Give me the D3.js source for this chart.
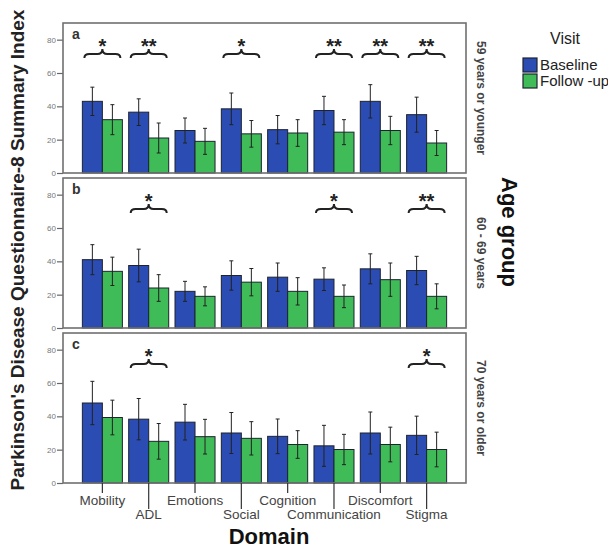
<!DOCTYPE html>
<html>
<head>
<meta charset="utf-8">
<script src="https://cdn.jsdelivr.net/npm/d3@7"></script>
<style>
  body { margin: 0; background: #fff; }
  text { font-family: "Liberation Sans", Arial, sans-serif; }
</style>
</head>
<body>
<script>
// domains on the x axis
var domains = ['Mobility', 'ADL', 'Emotions', 'Social', 'Cognition', 'Communication', 'Discomfort', 'Stigma']
var visits = ['Baseline', 'Follow -up']
var ageGroups = ['59 years or younger', '60 - 69 years', '70 years or older']
var panelLetters = ['a', 'b', 'c']
var yTicks = [0, 20, 40, 60, 80]

// panel a: 59 years or younger
var baseA = [43, 36.5, 25.5, 38.5, 26, 37.5, 43, 35]
var baseErrA = [8.5, 8, 7.5, 9.5, 8.5, 8.5, 10, 10.5]
var followA = [32, 21, 19, 23.5, 24, 24.5, 25.5, 18]
var followErrA = [9, 9, 7.8, 8, 8, 7.5, 8.5, 7.5]
var sigA = ['*', '**', '', '*', '', '**', '**', '**']

// panel b: 60 - 69
var baseB = [41, 37.5, 22, 31.5, 30.5, 29.3, 35.5, 34.5]
var baseErrB = [9, 9.8, 6, 8.8, 8.5, 6.8, 9, 8.5]
var followB = [34, 24, 19, 27.5, 22, 19, 29, 19]
var followErrB = [8.5, 8, 5.7, 8.2, 8.2, 6.8, 10, 7.5]
var sigB = ['', '*', '', '', '', '*', '', '**']

// panel c: 70 or older
var baseC = [48, 38.3, 36.5, 30, 28, 22.3, 30, 28.6]
var baseErrC = [13, 12.4, 10.7, 12.3, 10.4, 12.3, 12.6, 11.5]
var followC = [39.3, 25, 27.8, 26.8, 23.1, 20.1, 23.1, 20.1]
var followErrC = [10.4, 10.7, 10.4, 10, 8.3, 9.1, 10.4, 10.4]
var sigC = ['', '*', '', '', '', '', '', '*']

var panels = [
  { base: baseA, baseErr: baseErrA, follow: followA, followErr: followErrA, sig: sigA },
  { base: baseB, baseErr: baseErrB, follow: followB, followErr: followErrB, sig: sigB },
  { base: baseC, baseErr: baseErrC, follow: followC, followErr: followErrC, sig: sigC }
]

var colors = { 'Baseline': '#2b4cb2', 'Follow -up': '#3fbb58' }

var width = 608, height = 549
var left = 63, right = 466, top0 = 23, panelH = 150, panelStep = 155

var svg = d3.select('body').append('svg')
  .attr('width', width)
  .attr('height', height)

var x = d3.scaleBand().domain(domains).range([left, right])
  .paddingInner(0.136).paddingOuter(0.418)
var xv = d3.scaleBand().domain(visits).range([0, x.bandwidth()])

function brace(x0, x1, y) {
  var xm = (x0 + x1) / 2
  return 'M' + x0 + ',' + (y + 4) +
    ' Q' + x0 + ',' + y + ' ' + (x0 + 5) + ',' + y +
    ' L' + (xm - 5) + ',' + y +
    ' Q' + xm + ',' + y + ' ' + xm + ',' + (y - 5) +
    ' Q' + xm + ',' + y + ' ' + (xm + 5) + ',' + y +
    ' L' + (x1 - 5) + ',' + y +
    ' Q' + x1 + ',' + y + ' ' + x1 + ',' + (y + 4)
}

panels.forEach(function(p, pi) {
  var top = top0 + pi * panelStep
  var y = d3.scaleLinear().domain([0, 90]).range([top + panelH, top])
  var g = svg.append('g')

  // y axis
  var ax = g.append('g').attr('transform', 'translate(' + left + ',0)')
    .call(d3.axisLeft(y).tickValues(yTicks).tickSize(6).tickPadding(1))
  ax.select('.domain').remove()
  ax.selectAll('line').attr('stroke', '#666').attr('stroke-width', 1.2)
  ax.selectAll('text').attr('fill', '#777').style('font-size', '8px')

  var rows = domains.map(function(d, i) {
    return [
      { dom: d, visit: 'Baseline', v: p.base[i], e: p.baseErr[i] },
      { dom: d, visit: 'Follow -up', v: p.follow[i], e: p.followErr[i] }
    ]
  })
  var flat = [].concat.apply([], rows)

  g.selectAll('rect.bar').data(flat).enter().append('rect')
    .attr('class', 'bar')
    .attr('x', function(d) { return x(d.dom) + xv(d.visit) })
    .attr('y', function(d) { return y(d.v) })
    .attr('width', xv.bandwidth())
    .attr('height', function(d) { return y(0) - y(d.v) })
    .attr('fill', function(d) { return colors[d.visit] })
    .attr('stroke', '#1d2330')
    .attr('stroke-width', 1)

  // error bars
  var eb = g.selectAll('g.err').data(flat).enter().append('g')
    .attr('class', 'err')
    .attr('stroke', '#222').attr('stroke-width', 1)
  eb.append('line')
    .attr('x1', function(d) { return x(d.dom) + xv(d.visit) + xv.bandwidth() / 2 })
    .attr('x2', function(d) { return x(d.dom) + xv(d.visit) + xv.bandwidth() / 2 })
    .attr('y1', function(d) { return y(d.v - d.e) })
    .attr('y2', function(d) { return y(d.v + d.e) })
  eb.append('line')
    .attr('x1', function(d) { return x(d.dom) + xv(d.visit) + xv.bandwidth() / 2 - 2 })
    .attr('x2', function(d) { return x(d.dom) + xv(d.visit) + xv.bandwidth() / 2 + 2 })
    .attr('y1', function(d) { return y(d.v + d.e) })
    .attr('y2', function(d) { return y(d.v + d.e) })
  eb.append('line')
    .attr('x1', function(d) { return x(d.dom) + xv(d.visit) + xv.bandwidth() / 2 - 2 })
    .attr('x2', function(d) { return x(d.dom) + xv(d.visit) + xv.bandwidth() / 2 + 2 })
    .attr('y1', function(d) { return y(d.v - d.e) })
    .attr('y2', function(d) { return y(d.v - d.e) })

  // significance braces
  var sigData = domains.map(function(d, i) { return { dom: d, s: p.sig[i] } })
    .filter(function(d) { return d.s !== '' })
  g.selectAll('path.brace').data(sigData).enter().append('path')
    .attr('class', 'brace')
    .attr('d', function(d) { return brace(x(d.dom) + 2, x(d.dom) + x.bandwidth() - 2, top + 31) })
    .attr('fill', 'none').attr('stroke', '#222').attr('stroke-width', 2)
  g.selectAll('text.star').data(sigData).enter().append('text')
    .attr('class', 'star')
    .attr('x', function(d) { return x(d.dom) + x.bandwidth() / 2 })
    .attr('y', top + 30)
    .attr('text-anchor', 'middle')
    .style('font-size', '20px').style('font-weight', 'bold')
    .attr('fill', '#222')
    .text(function(d) { return d.s })

  // frame
  g.append('rect')
    .attr('x', left).attr('y', top)
    .attr('width', right - left).attr('height', panelH)
    .attr('fill', 'none').attr('stroke', '#707070').attr('stroke-width', 1.6)

  g.append('text')
    .attr('x', 72).attr('y', top + 16)
    .style('font-size', '14px').style('font-weight', 'bold')
    .attr('fill', '#333')
    .text(panelLetters[pi])

  // age group label on the right
  g.append('text')
    .attr('transform', 'translate(477,' + (top + panelH / 2) + ') rotate(90)')
    .attr('text-anchor', 'middle')
    .style('font-size', '12px').style('font-weight', 'bold')
    .attr('fill', '#444')
    .text(ageGroups[pi])

  if (pi == 2) {
    var xa = g.append('g').attr('transform', 'translate(0,' + (top + panelH) + ')')
      .call(d3.axisBottom(x).tickSize(0))
    xa.select('.domain').remove()
    xa.selectAll('.tick line')
      .attr('stroke', '#333').attr('stroke-width', 1.2)
      .attr('y2', function(d, i) { return i % 2 ? 26 : 10 })
    xa.selectAll('.tick text')
      .attr('y', function(d, i) { return i % 2 ? 36 : 22 })
      .attr('dy', 0)
      .attr('fill', '#444')
      .style('font-size', '13.5px')
  }
})

// axis titles
svg.append('text')
  .attr('transform', 'translate(24,' + 250 + ') rotate(-90)')
  .attr('text-anchor', 'middle')
  .style('font-size', '19px').style('font-weight', 'bold')
  .attr('fill', '#222')
  .text("Parkinson's Disease Questionnaire-8 Summary Index")

svg.append('text')
  .attr('x', 269).attr('y', 544)
  .attr('text-anchor', 'middle')
  .style('font-size', '22px').style('font-weight', 'bold')
  .attr('fill', '#111')
  .text('Domain')

svg.append('text')
  .attr('transform', 'translate(502,232) rotate(90)')
  .attr('text-anchor', 'middle')
  .style('font-size', '22px').style('font-weight', 'bold')
  .attr('fill', '#111')
  .text('Age group')

// legend
svg.append('text')
  .attr('x', 565).attr('y', 44)
  .attr('text-anchor', 'middle')
  .style('font-size', '16px')
  .attr('fill', '#222')
  .text('Visit')

var leg = svg.selectAll('g.leg').data(visits).enter().append('g')
  .attr('class', 'leg')
  .attr('transform', function(d, i) { return 'translate(523,' + (58 + i * 16) + ')' })
leg.append('rect')
  .attr('width', 14).attr('height', 14)
  .attr('fill', function(d) { return colors[d] })
  .attr('stroke', '#1d2330').attr('stroke-width', 1.2)
leg.append('text')
  .attr('x', 17).attr('y', 12)
  .style('font-size', '15px')
  .attr('fill', '#222')
  .text(function(d) { return d })
</script>
</body>
</html>
